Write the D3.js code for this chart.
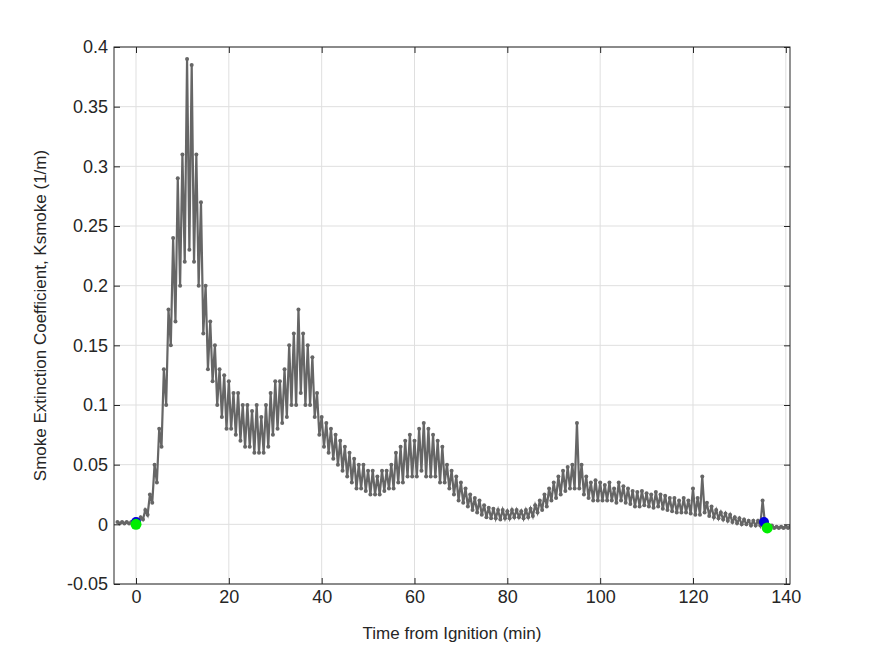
<!DOCTYPE html>
<html><head><meta charset="utf-8">
<script src="https://cdn.jsdelivr.net/npm/d3@7"></script>
<style>body{margin:0;background:#fff}svg{font-family:"Liberation Sans",Arial,sans-serif}</style>
</head><body>
<script>
// one entry per minute, from -4 to 141; upper reading at t, lower reading at t+0.5
const minutes = d3.range(-4, 142);
const upper = [
0.002,0.002,0.002,0.002,0.003,0.006,0.012,0.025,0.05,0.08,
0.13,0.18,0.24,0.29,0.31,0.39,0.385,0.31,0.27,0.2,
0.17,0.15,0.13,0.125,0.12,0.11,0.11,0.1,0.1,0.095,
0.1,0.09,0.1,0.11,0.12,0.12,0.13,0.15,0.16,0.18,
0.16,0.15,0.14,0.11,0.09,0.085,0.08,0.075,0.07,0.065,
0.06,0.055,0.05,0.05,0.045,0.045,0.04,0.045,0.045,0.05,
0.06,0.065,0.07,0.075,0.07,0.08,0.085,0.08,0.075,0.07,
0.065,0.05,0.045,0.04,0.035,0.03,0.025,0.022,0.02,0.016,
0.014,0.013,0.012,0.012,0.011,0.012,0.012,0.011,0.012,0.013,
0.016,0.02,0.025,0.03,0.035,0.04,0.045,0.048,0.05,0.085,
0.05,0.04,0.035,0.037,0.035,0.033,0.035,0.03,0.035,0.032,
0.03,0.028,0.027,0.028,0.026,0.025,0.027,0.025,0.024,0.022,
0.022,0.02,0.022,0.02,0.03,0.022,0.04,0.018,0.015,0.012,
0.01,0.009,0.008,0.006,0.005,0.004,0.003,0.003,0.003,0.02,
0.001,-0.001,-0.002,-0.002,-0.002,-0.002
];
const lower = [
0.0008,0.0008,0.0008,0.0008,0.001,0.004,0.008,0.018,0.035,0.065,
0.1,0.15,0.17,0.2,0.22,0.23,0.22,0.2,0.16,0.13,
0.12,0.1,0.09,0.08,0.08,0.075,0.07,0.065,0.065,0.06,
0.06,0.06,0.065,0.075,0.08,0.085,0.09,0.1,0.1,0.11,
0.1,0.1,0.09,0.075,0.065,0.06,0.055,0.05,0.045,0.04,
0.035,0.03,0.03,0.028,0.025,0.025,0.025,0.028,0.03,0.03,
0.035,0.035,0.04,0.04,0.04,0.045,0.04,0.04,0.04,0.035,
0.035,0.03,0.025,0.02,0.018,0.015,0.012,0.01,0.008,0.006,
0.005,0.005,0.004,0.005,0.005,0.006,0.006,0.005,0.006,0.007,
0.01,0.012,0.015,0.02,0.022,0.025,0.028,0.03,0.03,0.03,
0.025,0.022,0.02,0.02,0.02,0.02,0.02,0.018,0.02,0.018,
0.017,0.015,0.015,0.016,0.015,0.014,0.015,0.013,0.012,0.011,
0.01,0.01,0.01,0.009,0.008,0.008,0.01,0.007,0.006,0.005,
0.004,0.003,0.002,0.001,0.0,0.0,-0.001,-0.001,-0.001,0.001,
-0.002,-0.003,-0.003,-0.003,-0.003,-0.003
];
const blueDots = [[0,0.002],[135.3,0.002]];
const greenDots = [[0,0],[136,-0.003]];
const xTicks = [0,20,40,60,80,100,120,140];
const yTicks = [-0.05,0,0.05,0.1,0.15,0.2,0.25,0.3,0.35,0.4];

const W=875,H=656,L=114,R=790,T=47,B=584;
const svg=d3.select("body").append("svg").attr("width",W).attr("height",H);
const x=d3.scaleLinear().domain([-4.74,140.9]).range([L,R]);
const y=d3.scaleLinear().domain([-0.05,0.4]).range([B,T]);
const g=svg.append("g");
g.selectAll(".gx").data(xTicks).join("line").attr("x1",d=>x(d)).attr("x2",d=>x(d)).attr("y1",T).attr("y2",B).attr("stroke","#dfdfdf");
g.selectAll(".gy").data(yTicks).join("line").attr("y1",d=>y(d)).attr("y2",d=>y(d)).attr("x1",L).attr("x2",R).attr("stroke","#dfdfdf");
const pts=[];
minutes.forEach((t,i)=>{pts.push([t,upper[i]]);pts.push([t+0.5,lower[i]]);});
const clip=svg.append("clipPath").attr("id","c").append("rect").attr("x",L).attr("y",T).attr("width",R-L).attr("height",B-T);
const pg=svg.append("g").attr("clip-path","url(#c)");
pg.append("path").datum(pts).attr("fill","none").attr("stroke","#666").attr("stroke-width",2.2)
 .attr("d",d3.line().x(d=>x(d[0])).y(d=>y(d[1])));
pg.selectAll(".p").data(pts).join("circle").attr("cx",d=>x(d[0])).attr("cy",d=>y(d[1])).attr("r",2).attr("fill","#666");
svg.selectAll(".b").data(blueDots).join("circle").attr("cx",d=>x(d[0])).attr("cy",d=>y(d[1])).attr("r",5).attr("fill","#0000dd");
svg.selectAll(".gr").data(greenDots).join("circle").attr("cx",d=>x(d[0])).attr("cy",d=>y(d[1])).attr("r",5.5).attr("fill","#00ee00");
svg.append("rect").attr("x",L).attr("y",T).attr("width",R-L).attr("height",B-T).attr("fill","none").attr("stroke","#262626");
svg.append("g").attr("transform",`translate(0,${B})`).call(d3.axisBottom(x).tickValues(xTicks).tickSize(-6).tickPadding(6));
svg.append("g").attr("transform",`translate(0,${T})`).call(d3.axisTop(x).tickValues(xTicks).tickSize(-6).tickFormat(""));
const gy=svg.append("g").attr("transform",`translate(${L},0)`).call(d3.axisLeft(y).tickValues(yTicks).tickSize(-6).tickPadding(6).tickFormat(d=>String(+d.toFixed(2))));
svg.append("g").attr("transform",`translate(${R},0)`).call(d3.axisRight(y).tickValues(yTicks).tickSize(-6).tickFormat(""));
svg.selectAll(".domain").remove();
svg.selectAll(".tick line").attr("stroke","#262626");
svg.selectAll(".tick text").attr("fill","#262626").style("font-size","18px").style("font-family","Liberation Sans, Arial");
svg.append("text").attr("x",(L+R)/2).attr("y",639).attr("text-anchor","middle").attr("fill","#262626").style("font-size","17px").text("Time from Ignition (min)");
svg.append("text").attr("transform",`translate(46,${(T+B)/2}) rotate(-90)`).attr("text-anchor","middle").attr("fill","#262626").style("font-size","17px").text("Smoke Extinction Coefficient, Ksmoke (1/m)");
</script>
</body></html>
